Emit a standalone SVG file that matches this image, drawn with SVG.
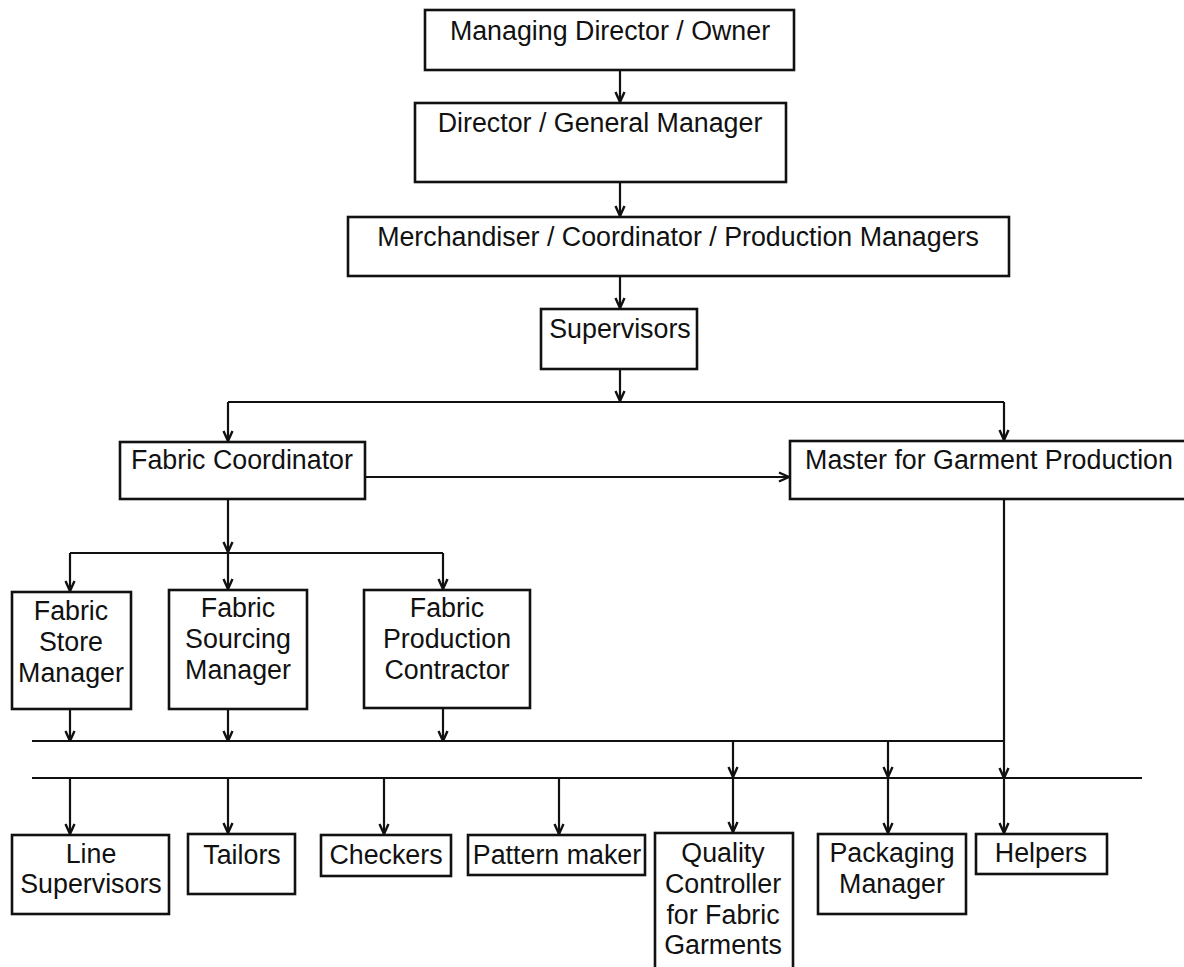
<svg xmlns="http://www.w3.org/2000/svg" width="1184" height="967" viewBox="0 0 1184 967">
<style>
.box{fill:#fff;stroke:#111;stroke-width:2.6}
.t{font-family:"Liberation Sans",Arial,sans-serif;font-size:26.8px;fill:#111;text-anchor:middle}
.c{fill:none;stroke:#111;stroke-width:2.2}
</style>
<defs>
<marker id="a" viewBox="0 0 12 12" refX="11" refY="6" markerWidth="12" markerHeight="12" markerUnits="userSpaceOnUse" orient="auto">
<path d="M1,1.5 L11,6 L1,10.5" fill="none" stroke="#111" stroke-width="2.4"/>
</marker>
</defs>
<rect width="1184" height="967" fill="#fff"/>
<g id="connectors">
<path class="c" d="M620,70 V102" marker-end="url(#a)"/>
<path class="c" d="M620,182 V216" marker-end="url(#a)"/>
<path class="c" d="M620,276 V308" marker-end="url(#a)"/>
<path class="c" d="M620,369 V401" marker-end="url(#a)"/>
<path class="c" d="M228,402 H1004"/>
<path class="c" d="M228,402 V441" marker-end="url(#a)"/>
<path class="c" d="M1004,402 V440" marker-end="url(#a)"/>
<path class="c" d="M365,477 H789" marker-end="url(#a)"/>
<path class="c" d="M228,499 V552" marker-end="url(#a)"/>
<path class="c" d="M70,553 H443"/>
<path class="c" d="M70,553 V591" marker-end="url(#a)"/>
<path class="c" d="M228,553 V589" marker-end="url(#a)"/>
<path class="c" d="M443,553 V589" marker-end="url(#a)"/>
<path class="c" d="M70,709 V741" marker-end="url(#a)"/>
<path class="c" d="M228,709 V741" marker-end="url(#a)"/>
<path class="c" d="M443,708 V741" marker-end="url(#a)"/>
<path class="c" d="M32,741 H1004"/>
<path class="c" d="M1004,499 V778" marker-end="url(#a)"/>
<path class="c" d="M1004,778 V833" marker-end="url(#a)"/>
<path class="c" d="M733,741 V777" marker-end="url(#a)"/>
<path class="c" d="M888,741 V777" marker-end="url(#a)"/>
<path class="c" d="M32,778 H1142"/>
<path class="c" d="M70,778 V834" marker-end="url(#a)"/>
<path class="c" d="M228,778 V833" marker-end="url(#a)"/>
<path class="c" d="M384,778 V834" marker-end="url(#a)"/>
<path class="c" d="M559,778 V834" marker-end="url(#a)"/>
<path class="c" d="M733,778 V832" marker-end="url(#a)"/>
<path class="c" d="M888,778 V833" marker-end="url(#a)"/>
</g>
<g id="md"><rect class="box" x="425" y="10" width="369" height="60"/><text class="t" x="610" y="40">Managing Director / Owner</text></g>
<g id="dgm"><rect class="box" x="415" y="103" width="371" height="79"/><text class="t" x="600" y="132">Director / General Manager</text></g>
<g id="merch"><rect class="box" x="348" y="217" width="661" height="59"/><text class="t" x="678" y="246">Merchandiser / Coordinator / Production Managers</text></g>
<g id="sup"><rect class="box" x="541" y="309" width="156" height="60"/><text class="t" x="620" y="338">Supervisors</text></g>
<g id="fc"><rect class="box" x="120" y="442" width="245" height="57"/><text class="t" x="242" y="469">Fabric Coordinator</text></g>
<g id="master"><rect class="box" x="790" y="441" width="400" height="58"/><text class="t" x="989" y="469">Master for Garment Production</text></g>
<g id="fsm"><rect class="box" x="12" y="592" width="119" height="117"/><text class="t" x="71" y="620">Fabric</text><text class="t" x="71" y="651">Store</text><text class="t" x="71" y="682">Manager</text></g>
<g id="fsrc"><rect class="box" x="169" y="590" width="138" height="119"/><text class="t" x="238" y="617">Fabric</text><text class="t" x="238" y="648">Sourcing</text><text class="t" x="238" y="679">Manager</text></g>
<g id="fpc"><rect class="box" x="364" y="590" width="166" height="118"/><text class="t" x="447" y="617">Fabric</text><text class="t" x="447" y="648">Production</text><text class="t" x="447" y="679">Contractor</text></g>
<g id="ls"><rect class="box" x="12" y="835" width="157" height="79"/><text class="t" x="91" y="863">Line</text><text class="t" x="91" y="893">Supervisors</text></g>
<g id="tailors"><rect class="box" x="188" y="834" width="107" height="60"/><text class="t" x="242" y="864">Tailors</text></g>
<g id="checkers"><rect class="box" x="321" y="835" width="130" height="41"/><text class="t" x="386" y="864">Checkers</text></g>
<g id="pattern"><rect class="box" x="468" y="835" width="177" height="40"/><text class="t" x="557" y="864">Pattern maker</text></g>
<g id="qc"><rect class="box" x="655" y="833" width="138" height="140"/><text class="t" x="723" y="862">Quality</text><text class="t" x="723" y="893">Controller</text><text class="t" x="723" y="924">for Fabric</text><text class="t" x="723" y="954">Garments</text></g>
<g id="pack"><rect class="box" x="818" y="834" width="148" height="80"/><text class="t" x="892" y="862">Packaging</text><text class="t" x="892" y="893">Manager</text></g>
<g id="helpers"><rect class="box" x="976" y="834" width="131" height="40"/><text class="t" x="1041" y="862">Helpers</text></g>
</svg>
